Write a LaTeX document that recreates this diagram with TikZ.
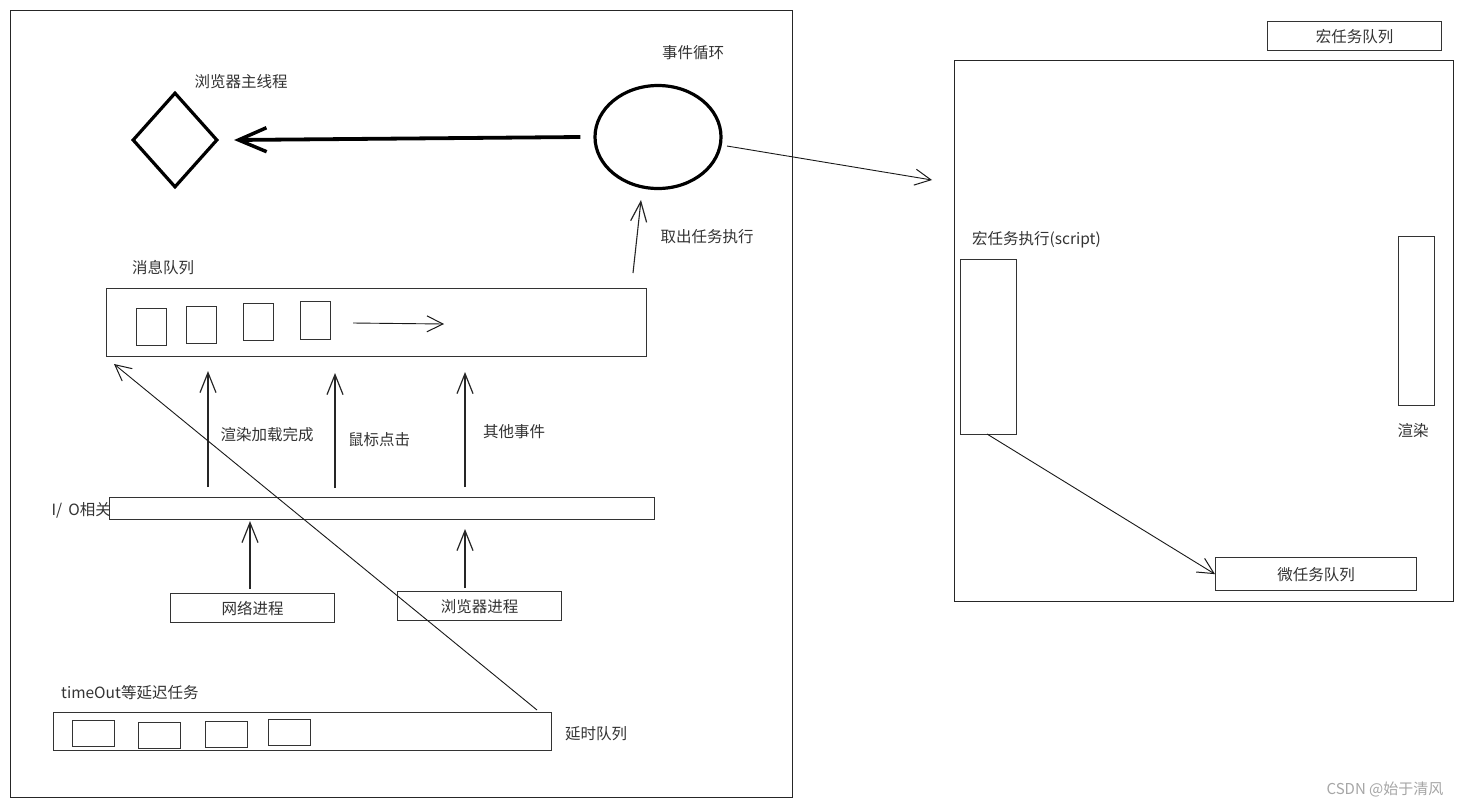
\documentclass[tikz,border=0pt]{standalone}
\usepackage{fontspec}
\setmainfont{Noto Sans CJK SC}
\usetikzlibrary{arrows.meta,shapes.geometric}
\begin{document}
\begin{tikzpicture}[x=1pt,y=-1pt,
  box/.style={draw=black!80, line width=1.3pt, rectangle, inner sep=0pt, anchor=north west},
  frame/.style={draw=black!85, line width=1pt, rectangle, inner sep=0pt, anchor=north west},
  lbl/.style={font=\fontsize{15.5}{18}\selectfont, text=black!80, inner sep=0pt},
  arr/.style={-{Straight Barb[length=20pt,width=16pt,line width=1.2pt]}, line width=1.1pt, draw=black!85},
  thin arr/.style={-{Straight Barb[length=16pt,width=16pt,line width=1pt]}, line width=0.9pt, draw=black!90},
  bold arr/.style={-{Straight Barb[length=28pt,width=24pt,line width=3.5pt]}, line width=3.8pt},
]
\useasboundingbox (0,0) rectangle (1463,807);
\fill[white] (0,0) rectangle (1463,807);

% frames
\node[frame, minimum width=782, minimum height=787] (leftframe) at (10,10) {};
\node[frame, minimum width=499, minimum height=541] (rightframe) at (954,60) {};

% left top
\node[draw, line width=3.2pt, diamond, minimum width=85, minimum height=95, inner sep=0pt] (main) at (175,140) {};
\node[lbl] (mainl) at (241,82) {浏览器主线程};
\node[draw, line width=3.2pt, ellipse, minimum width=126, minimum height=103, inner sep=0pt] (ev) at (658,137) {};
\node[lbl] (evl) at (693,53) {事件循环};
\draw[bold arr] ([xshift=-13pt]ev.west) -- ([xshift=15pt]main.east);

% message queue
\node[lbl] (msgl) at (163,268) {消息队列};
\node[box, minimum width=540, minimum height=68] (msgq) at (106,288) {};
\node[box, minimum width=30, minimum height=37] (m1) at (136,308) {};
\node[box, minimum width=30, minimum height=37] (m2) at (186,306) {};
\node[box, minimum width=30, minimum height=37] (m3) at (243,303) {};
\node[box, minimum width=30, minimum height=38] (m4) at (300,301) {};
\coordinate (qa) at (353,323);
\coordinate (qb) at (444,324);
\draw[thin arr] (qa) -- (qb);

% take task arrow
\coordinate (ta) at (633,273);
\coordinate (tb) at (641,200);
\draw[arr] (ta) -- (tb);
\node[lbl] (takel) at (707,237) {取出任务执行};

% events
\coordinate (e1a) at (208,487); \coordinate (e1b) at (208,371);
\coordinate (e2a) at (335,488); \coordinate (e2b) at (335,373);
\coordinate (e3a) at (465,487); \coordinate (e3b) at (465,372);
\draw[arr] (e1a) -- (e1b);
\draw[arr] (e2a) -- (e2b);
\draw[arr] (e3a) -- (e3b);
\node[lbl] (el1) at (267,435) {渲染加载完成};
\node[lbl] (el2) at (379,440) {鼠标点击};
\node[lbl] (el3) at (514,432) {其他事件};

% IO
\node[box, minimum width=545, minimum height=22] (io) at (109,497) {};
\node[lbl, anchor=east] (iol) at (111,510) {I/\hspace{6pt}O相关};
\node[box, minimum width=164, minimum height=29] (net) at (170,593) {};
\node[lbl] at (net.center) {网络进程};
\node[box, minimum width=164, minimum height=29] (bproc) at (397,591) {};
\node[lbl] at (bproc.center) {浏览器进程};
\coordinate (n1a) at (250,589); \coordinate (n1b) at (250,521);
\coordinate (n2a) at (465,588); \coordinate (n2b) at (465,529);
\draw[arr] (n1a) -- (n1b);
\draw[arr] (n2a) -- (n2b);

% delay queue
\node[lbl, anchor=west] (tol) at (61,693) {timeOut等延迟任务};
\node[box, minimum width=498, minimum height=38] (delayq) at (53,712) {};
\node[box, minimum width=42, minimum height=26] (d1) at (72,720) {};
\node[box, minimum width=42, minimum height=26] (d2) at (138,722) {};
\node[box, minimum width=42, minimum height=26] (d3) at (205,721) {};
\node[box, minimum width=42, minimum height=26] (d4) at (268,719) {};
\node[lbl] (dql) at (596,734) {延时队列};
\coordinate (da) at (537,710); \coordinate (db) at (114,364);
\draw[thin arr] (da) -- (db);

% right side
\coordinate (ra) at (727,146); \coordinate (rb) at (932,180);
\draw[thin arr] (ra) -- (rb);
\node[box, minimum width=174, minimum height=29] (macroq) at (1267,21) {};
\node[lbl] at (macroq.center) {宏任务队列};
\node[lbl, anchor=west] (mexl) at (972,240) {宏任务执行(script)};
\node[box, minimum width=56, minimum height=175] (mex) at (960,259) {};
\node[box, minimum width=36, minimum height=169] (rend) at (1398,236) {};
\node[lbl] (rendl) at (1413,431) {渲染};
\node[box, minimum width=201, minimum height=33] (microq) at (1215,557) {};
\node[lbl] at (microq.center) {微任务队列};
\coordinate (xa) at (987,434);
\draw[thin arr] (xa) -- (microq.west);

\node[font=\fontsize{15}{17}\selectfont, text=black!35, inner sep=0pt] (wm) at (1385,789) {CSDN @始于清风};
\end{tikzpicture}
\end{document}
